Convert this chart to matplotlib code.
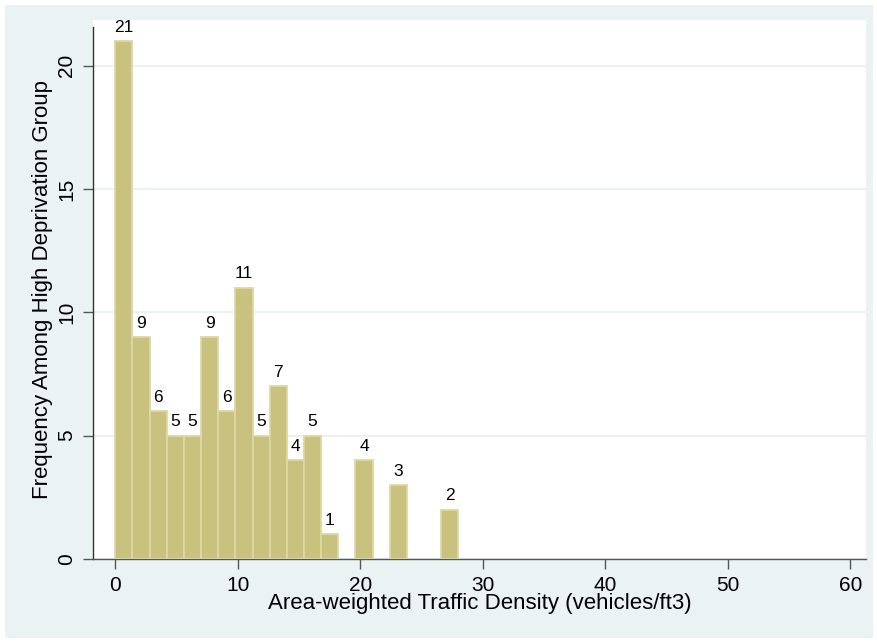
import matplotlib
matplotlib.use("Agg")
import matplotlib.pyplot as plt
import numpy as np

plt.rcParams['font.family'] = ['Liberation Sans', 'DejaVu Sans']

# Histogram data (20 bins of width 1.4 starting at 0)
bin_start = 0.0
bin_width = 1.4
counts = [21, 9, 6, 5, 5, 9, 6, 11, 5, 7, 4, 5, 1, 0, 4, 0, 3, 0, 0, 2]
x_ticks = [0, 10, 20, 30, 40, 50, 60]
y_ticks = [0, 5, 10, 15, 20]
x_label = "Area-weighted Traffic Density (vehicles/ft3)"
y_label = "Frequency Among High Deprivation Group"

bg = "#EAF2F3"
bar_fill = "#C9C27E"
bar_edge = "#DDD8A4"

W, H = 878, 643
fig = plt.figure(figsize=(W / 100, H / 100), dpi=100, facecolor="white")
# light background panel
fig.add_artist(plt.Rectangle((5 / W, 5 / H), (W - 10) / W, (H - 10) / H,
                             transform=fig.transFigure, facecolor=bg,
                             edgecolor="none", zorder=-10))

ax = fig.add_axes([93 / W, 1 - 559 / H, (866 - 93) / W, (559 - 20) / H])
ax.set_zorder(5)
ax.set_facecolor("white")

counts_arr = np.array(counts)
edges = bin_start + bin_width * np.arange(len(counts) + 1)
lefts = edges[:-1]
nz = counts_arr > 0
ax.bar(lefts[nz], counts_arr[nz], width=bin_width, align='edge', color=bar_fill,
       edgecolor=bar_edge, linewidth=1.3, zorder=3)

for l, c in zip(lefts[nz], counts_arr[nz]):
    ax.annotate(str(c), (l + bin_width / 2, c), xytext=(0, 4.5),
                textcoords='offset points', ha='center', va='bottom',
                fontsize=12.5, color='black', zorder=4)

ax.set_xlim(-1.82, 61.27)
ax.set_ylim(0, 21.85)
ax.set_xticks(x_ticks)
ax.set_yticks(y_ticks)
ax.set_yticklabels([str(v) for v in y_ticks], rotation=90, va='center')

ax.grid(axis='y', color=bg, linewidth=1.5, zorder=1)
ax.set_axisbelow(True)

for s in ['top', 'right']:
    ax.spines[s].set_visible(False)
ax.spines['left'].set_color('#333333')
ax.spines['bottom'].set_color('#555555')
ax.spines['left'].set_linewidth(1.0)
ax.spines['bottom'].set_linewidth(1.0)
ax.spines['left'].set_bounds(0, 21.56)

ax.tick_params(axis='both', direction='out', length=7, width=1.0,
               color='#555555', labelsize=15, labelcolor='black')
ax.tick_params(axis='x', pad=5)
ax.tick_params(axis='y', pad=5)

ax.set_xlabel(x_label, fontsize=16, labelpad=-1)
ax.set_ylabel(y_label, fontsize=16, labelpad=3)

fig.savefig("out.png", dpi=100, facecolor="white")
